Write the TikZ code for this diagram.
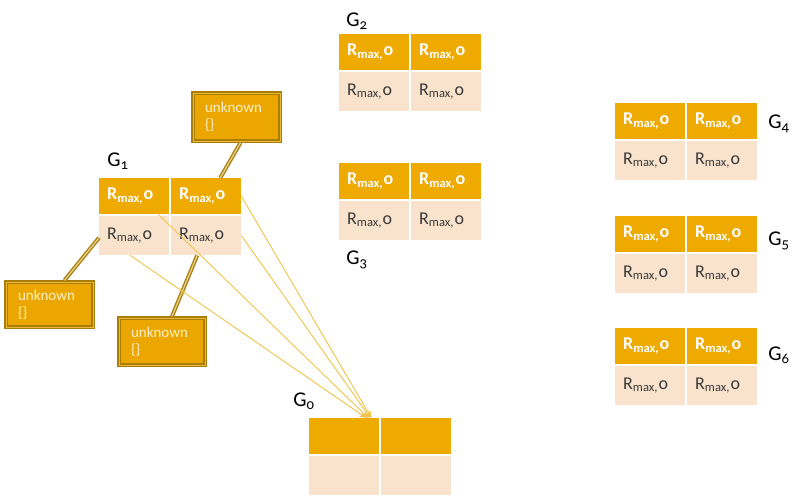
\documentclass[tikz,border=0pt]{standalone}
\usepackage{fontspec}
\setmainfont{Carlito}[Numbers=OldStyle]
\usetikzlibrary{calc,arrows.meta}
\definecolor{hdr}{HTML}{EFAA00}
\definecolor{bdy}{HTML}{F9E3CD}
\definecolor{ubox}{HTML}{EBA700}
\definecolor{uedge}{HTML}{A87E08}
\definecolor{uinner}{HTML}{EDB935}
\definecolor{conn}{HTML}{A98215}
\definecolor{connin}{HTML}{EBD28A}
\definecolor{arr}{HTML}{F0C448}
\definecolor{bodytext}{HTML}{3A3A3A}
\definecolor{utext}{HTML}{FDF0C8}
\newcommand\rmo{R\textsubscript{max,}\kern0.5pt o}
\tikzset{
  cellh/.style={fill=hdr, minimum width=70pt, minimum height=36pt, anchor=north west,
    inner xsep=8pt, inner ysep=0pt, text width=54pt, align=left,
    font=\fontsize{18}{20}\selectfont\bfseries, text=white},
  cellb/.style={fill=bdy, minimum width=70pt, minimum height=39pt, anchor=north west,
    inner xsep=8pt, inner ysep=0pt, text width=54pt, align=left,
    font=\fontsize{18}{20}\selectfont, text=bodytext},
  ubox/.style={fill=ubox, draw=uedge, double=uinner, double distance=1pt, line width=1.4pt,
    inner xsep=11pt, inner ysep=0pt, align=left, text=utext,
    font=\fontsize{15}{17}\selectfont},
  ulink/.style={draw=conn, line width=1.4pt, double=connin, double distance=1.2pt},
  arrline/.style={draw=arr, line width=0.9pt, -{Stealth[length=7pt,width=6pt]}},
  glabel/.style={font=\fontsize{21}{23}\selectfont, text=black, inner sep=0pt}
}
\newcommand\gtab[4]{%
  \node[cellh] (#1h1) at (#2,#3) {#4};
  \node[cellh] (#1h2) at (#2+72,#3) {#4};
  \node[cellb] (#1b1) at (#2,#3+38) {#4};
  \node[cellb] (#1b2) at (#2+72,#3+38) {#4};
}
\begin{document}
\begin{tikzpicture}[x=1pt,y=-1pt]
\useasboundingbox[fill=white] (0,0) rectangle (794,495);
% tables
\gtab{Ga}{99}{178}{\rmo}
\gtab{Gb}{339}{34}{\rmo}
\gtab{Gc}{339}{163}{\rmo}
\gtab{Gd}{615}{103}{\rmo}
\gtab{Ge}{615}{216}{\rmo}
\gtab{Gf}{615}{328}{\rmo}
\gtab{Gz}{309}{418}{}
% labels
\node[glabel] (l1) at (118,161) {G\textsubscript{1}};
\node[glabel] (l2) at (357,21) {G\textsubscript{2}};
\node[glabel] (l3) at (357,260) {G\textsubscript{3}};
\node[glabel] (l4) at (779,124) {G\textsubscript{4}};
\node[glabel] (l5) at (779,241) {G\textsubscript{5}};
\node[glabel] (l6) at (779,355) {G\textsubscript{6}};
\node[glabel] (l0) at (304,401) {G\textsubscript{0}};
% unknown boxes
\node[ubox, minimum width=87pt, minimum height=48pt, text width=63pt] (uT) at (236.5,117) {unknown\\\{\}};
\node[ubox, minimum width=87pt, minimum height=45pt, text width=63pt] (uL) at (49.5,304.5) {unknown\\\{\}};
\node[ubox, minimum width=86pt, minimum height=47pt, text width=62pt] (uB) at (162,341.5) {unknown\\\{\}};
% thick connectors
\draw[ulink] ($(uT.south)+(4,1)$) -- ($(Gah2.north)+(14,0)$);
\draw[ulink] ($(uL.north)+(15,-1)$) -- ($(Gab1.west)+(0,2)$);
\draw[ulink] ($(uB.north)+(10,-1)$) -- ($(Gab2.south)+(-9,0)$);
% thin arrows
\draw[arrline] (Gah2.east) -- ($(Gzh1.north east)+(-8,0)$);
\draw[arrline] (Gab2.east) -- ($(Gzh1.north east)+(-9,0)$);
\draw[arrline] ($(Gah1.south east)+(-11,0)$) -- ($(Gzh1.north east)+(-11,0)$);
\draw[arrline] ($(Gab1.south)+(-4,0)$) -- ($(Gzh1.north east)+(-13,0)$);
\end{tikzpicture}
\end{document}
